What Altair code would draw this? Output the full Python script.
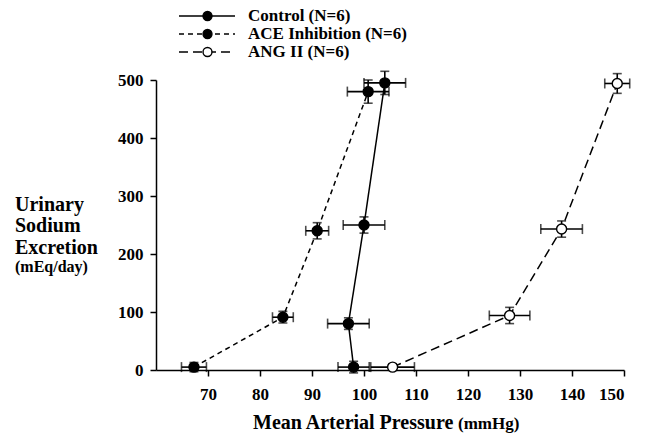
import altair as alt
import pandas as pd

# ---- data ----
series_names = ["Control (N=6)", "ACE Inhibition (N=6)", "ANG II (N=6)"]

control_map = [98, 97, 100, 104]
control_una = [5, 80, 250, 495]
control_map_err = [3, 4, 4, 4]
control_una_err = [10, 10, 14, 20]

ace_map = [67.3, 84.4, 91, 100.8]
ace_una = [5, 91, 240, 480]
ace_map_err = [2.4, 2, 2.2, 4]
ace_una_err = [8, 10, 14, 20]

ang_map = [105.5, 128, 138, 148.7]
ang_una = [5, 94, 243, 494]
ang_map_err = [4.2, 3.9, 4, 2.4]
ang_una_err = [5, 14, 14, 17]

x_ticks = [70, 80, 90, 100, 110, 120, 130, 140, 150]
y_ticks = [0, 100, 200, 300, 400, 500]

rows = []
for name, xs, ys, xe, ye in [
    (series_names[0], control_map, control_una, control_map_err, control_una_err),
    (series_names[1], ace_map, ace_una, ace_map_err, ace_una_err),
    (series_names[2], ang_map, ang_una, ang_map_err, ang_una_err),
]:
    for i, (x, y, ex, ey) in enumerate(zip(xs, ys, xe, ye)):
        rows.append({"series": name, "order": i, "map": x, "una": y,
                     "xlo": x - ex, "xhi": x + ex, "ylo": y - ey, "yhi": y + ey})
df = pd.DataFrame(rows)

FONT = "Liberation Serif"

xscale = alt.Scale(domain=[60, 150], nice=False, zero=False)
yscale = alt.Scale(domain=[0, 500], nice=False)

X = alt.X("map:Q", scale=xscale,
          axis=alt.Axis(values=x_ticks, title=None, grid=False, format="d"))
Y = alt.Y("una:Q", scale=yscale,
          axis=alt.Axis(values=y_ticks, title=None, grid=False, format="d"))

dash_scale = alt.Scale(domain=series_names, range=[[1, 0], [5, 4], [9, 5]])
fill_scale = alt.Scale(domain=series_names, range=["black", "black", "white"])

base = alt.Chart(df)

lines = base.mark_line(color="black", strokeWidth=1.5).encode(
    x=X, y=Y, order="order:Q", detail="series:N",
    strokeDash=alt.StrokeDash(
        "series:N", scale=dash_scale,
        legend=alt.Legend(
            orient="none", legendX=22, legendY=-73, title=None,
            symbolType="stroke", symbolSize=3136, symbolStrokeWidth=1.5,
            symbolStrokeColor="black", clipHeight=18, rowPadding=0,
            labelFont=FONT, labelFontSize=17, labelFontWeight="bold",
            labelColor="black", labelOffset=12, labelLimit=400, padding=0,
        ),
    ),
)

xerr = base.mark_rule(color="black", strokeWidth=1.6).encode(
    x=alt.X("xlo:Q", scale=xscale), x2="xhi:Q", y=alt.Y("una:Q", scale=yscale))
yerr = base.mark_rule(color="black", strokeWidth=1.6).encode(
    y=alt.Y("ylo:Q", scale=yscale), y2="yhi:Q", x=alt.X("map:Q", scale=xscale))
cap_xlo = base.mark_tick(orient="vertical", size=10, thickness=1.6, color="black").encode(
    x=alt.X("xlo:Q", scale=xscale), y=alt.Y("una:Q", scale=yscale))
cap_xhi = base.mark_tick(orient="vertical", size=10, thickness=1.6, color="black").encode(
    x=alt.X("xhi:Q", scale=xscale), y=alt.Y("una:Q", scale=yscale))
cap_ylo = base.mark_tick(orient="horizontal", size=9, thickness=1.6, color="black").encode(
    x=alt.X("map:Q", scale=xscale), y=alt.Y("ylo:Q", scale=yscale))
cap_yhi = base.mark_tick(orient="horizontal", size=9, thickness=1.6, color="black").encode(
    x=alt.X("map:Q", scale=xscale), y=alt.Y("yhi:Q", scale=yscale))

points = base.mark_point(filled=True, size=100, stroke="black", strokeWidth=1.4,
                         opacity=1, shape="circle").encode(
    x=X, y=Y,
    fill=alt.Fill(
        "series:N", scale=fill_scale,
        legend=alt.Legend(
            orient="none", legendX=46, legendY=-73, title=None,
            symbolType="circle", symbolSize=80, symbolStrokeWidth=1.4,
            symbolStrokeColor="black", symbolOpacity=1, clipHeight=18, rowPadding=0,
            labelExpr="''", labelFontSize=1, padding=0,
        ),
    ),
)

ytitle = alt.Chart(pd.DataFrame({"t": ["Urinary\nSodium\nExcretion"]})).mark_text(
    font=FONT, fontSize=20, fontWeight="bold", align="left", baseline="alphabetic",
    lineBreak="\n", lineHeight=21.3, color="black"
).encode(text="t:N", x=alt.value(-141), y=alt.value(131))
yunit = alt.Chart(pd.DataFrame({"t": ["(mEq/day)"]})).mark_text(
    font=FONT, fontSize=16, fontWeight="bold", align="left", baseline="alphabetic",
    color="black"
).encode(text="t:N", x=alt.value(-141), y=alt.value(192))
xtitle = alt.Chart(pd.DataFrame({"t": ["Mean Arterial Pressure"]})).mark_text(
    font=FONT, fontSize=20, fontWeight="bold", align="left", baseline="alphabetic",
    color="black"
).encode(text="t:N", x=alt.value(97), y=alt.value(349))
xunit = alt.Chart(pd.DataFrame({"t": ["(mmHg)"]})).mark_text(
    font=FONT, fontSize=17, fontWeight="bold", align="left", baseline="alphabetic",
    color="black"
).encode(text="t:N", x=alt.value(302), y=alt.value(349))

chart = alt.layer(
    lines, xerr, yerr, cap_xlo, cap_xhi, cap_ylo, cap_yhi, points,
    ytitle, yunit, xtitle, xunit,
).resolve_legend(
    strokeDash="independent", fill="independent"
).properties(
    width=468, height=290,
    padding={"left": 156, "top": 80, "right": 22, "bottom": 64},
    autosize=alt.AutoSizeParams(type="none"),
).configure_view(stroke=None).configure_axis(
    domainColor="black", domainWidth=1.5, tickColor="black", tickWidth=1.5,
    tickSize=6, labelFont=FONT, labelFontSize=17, labelFontWeight="bold",
    labelColor="black",
).configure_axisX(labelPadding=10).configure_axisY(labelPadding=7)

chart.save("out.html", embed_options={"renderer": "svg", "actions": False})
